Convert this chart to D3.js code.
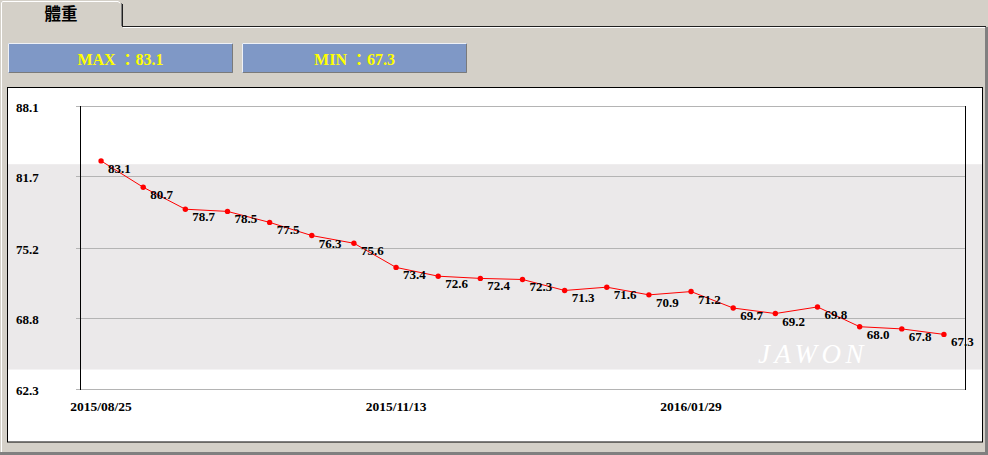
<!DOCTYPE html>
<html>
<head>
<meta charset="utf-8">
<script src="https://cdn.jsdelivr.net/npm/d3@7/dist/d3.min.js"></script>
<style>
  html, body { margin: 0; padding: 0; background: #d4d0c8; overflow: hidden; }
  svg { display: block; }
</style>
</head>
<body>
<svg id="chart" width="988" height="455"></svg>
<script>
// ---- data ----
const values = [83.1, 80.7, 78.7, 78.5, 77.5, 76.3, 75.6, 73.4, 72.6, 72.4, 72.3,
                71.3, 71.6, 70.9, 71.2, 69.7, 69.2, 69.8, 68.0, 67.8, 67.3];
const yTicks = [62.3, 68.8, 75.2, 81.7, 88.1];
const xTickLabels = ["2015/08/25", "2015/11/13", "2016/01/29"];
const xTickIndex = [0, 7, 14];
const bandRange = [64.1, 82.8];
const tabTitle = "體重";
const watermark = "JAWON";

(function () {
const svg = d3.select("#chart");
const serif = "'Liberation Serif', 'Times New Roman', 'Noto Sans CJK TC', serif";

// ---- window / tab chrome ----
svg.append("rect").attr("x", 0).attr("y", 0).attr("width", 988).attr("height", 455).attr("fill", "#d4d0c8");
svg.append("line").attr("x1", 122).attr("x2", 986).attr("y1", 26.5).attr("y2", 26.5).attr("stroke", "#202020");
svg.append("line").attr("x1", 123).attr("x2", 985).attr("y1", 27.5).attr("y2", 27.5).attr("stroke", "#ffffff");
svg.append("rect").attr("x", 985).attr("y", 27).attr("width", 3).attr("height", 428).attr("fill", "#808080");
svg.append("rect").attr("x", 0).attr("y", 452).attr("width", 988).attr("height", 3).attr("fill", "#808080");
svg.append("line").attr("x1", 1.5).attr("x2", 1.5).attr("y1", 4).attr("y2", 452).attr("stroke", "#ffffff");
svg.append("path").attr("d", "M1.5,27 L1.5,3 L2.5,1.5 L118,1.5 L120,3").attr("fill", "none").attr("stroke", "#ffffff");
svg.append("line").attr("x1", 121.5).attr("x2", 121.5).attr("y1", 3).attr("y2", 26).attr("stroke", "#808080");
svg.append("line").attr("x1", 122.5).attr("x2", 122.5).attr("y1", 4).attr("y2", 27).attr("stroke", "#202020");
svg.append("text").attr("x", 61).attr("y", 20).attr("text-anchor", "middle")
  .attr("font-family", "'Noto Sans CJK TC', 'Noto Sans CJK SC', sans-serif")
  .attr("font-weight", "bold").attr("font-size", 16.5).attr("fill", "#000").text(tabTitle);

// ---- MAX / MIN boxes ----
const boxes = [
  { x: 8, label: "MAX ：" + d3.max(values).toFixed(1) },
  { x: 242, label: "MIN ：" + d3.min(values).toFixed(1) }
];
boxes.forEach(b => {
  const g = svg.append("g");
  g.append("rect").attr("x", b.x).attr("y", 43).attr("width", 225).attr("height", 30).attr("fill", "#7f98c6");
  g.append("path").attr("d", `M${b.x + 0.5},${72.5} L${b.x + 0.5},${43.5} L${b.x + 224.5},${43.5}`)
    .attr("fill", "none").attr("stroke", "#eef1f7");
  g.append("path").attr("d", `M${b.x + 1},${72.5} L${b.x + 224.5},${72.5} L${b.x + 224.5},${44}`)
    .attr("fill", "none").attr("stroke", "#7a7a7a");
  g.append("text").attr("x", b.x + 112.5).attr("y", 64.5).attr("text-anchor", "middle")
    .attr("font-family", serif).attr("font-weight", "bold").attr("font-size", 16)
    .attr("fill", "#ffff00").text(b.label);
});

// ---- chart box ----
svg.append("rect").attr("x", 7.5).attr("y", 87.5).attr("width", 975).attr("height", 354.5)
  .attr("fill", "#ffffff").attr("stroke", "#000000");

const pLeft = 80, pRight = 965, pTop = 106, pBottom = 389.3;
const x = d3.scalePoint().domain(d3.range(values.length)).range([pLeft, pRight]).padding(0.5);
const y = d3.scaleLinear().domain([d3.min(yTicks), d3.max(yTicks)]).range([pBottom, pTop]);

// band
svg.append("rect").attr("x", 8).attr("width", 974)
  .attr("y", y(bandRange[1])).attr("height", y(bandRange[0]) - y(bandRange[1]))
  .attr("fill", "#ebe9ea");

// watermark
svg.append("text").attr("x", 758).attr("y", 363)
  .attr("font-family", serif).attr("font-style", "italic").attr("font-size", 27)
  .attr("letter-spacing", 4.5).attr("fill", "#ffffff").text(watermark);

// gridlines
svg.append("g").selectAll("line").data(yTicks).join("line")
  .attr("x1", 76).attr("x2", pRight)
  .attr("y1", d => Math.round(y(d)) + 0.5).attr("y2", d => Math.round(y(d)) + 0.5)
  .attr("stroke", "#b4b4b4");

// vertical axis lines
[pLeft, pRight].forEach(vx => {
  svg.append("line").attr("x1", vx + 0.5).attr("x2", vx + 0.5)
    .attr("y1", Math.round(y(d3.max(yTicks)))).attr("y2", Math.round(y(d3.min(yTicks))) + 1)
    .attr("stroke", "#000");
});

// y labels
svg.append("g").selectAll("text").data(yTicks).join("text")
  .attr("x", 16).attr("y", d => y(d) + 6)
  .attr("font-family", serif).attr("font-weight", "bold").attr("font-size", 13)
  .attr("fill", "#000").text(d => d.toFixed(1));

// x labels
svg.append("g").selectAll("text").data(xTickIndex).join("text")
  .attr("x", d => x(d)).attr("y", 410.5).attr("text-anchor", "middle")
  .attr("font-family", serif).attr("font-weight", "bold").attr("font-size", 13.5)
  .attr("fill", "#000").text((d, i) => xTickLabels[i]);

// line
svg.append("path").datum(values)
  .attr("d", d3.line().x((d, i) => x(i)).y(d => y(d)))
  .attr("fill", "none").attr("stroke", "#ff0000").attr("stroke-width", 1);

// points
svg.append("g").selectAll("circle").data(values).join("circle")
  .attr("cx", (d, i) => x(i)).attr("cy", d => y(d)).attr("r", 2.7)
  .attr("fill", "#ff0000");

// value labels
svg.append("g").selectAll("text").data(values).join("text")
  .attr("x", (d, i) => x(i) + 7).attr("y", d => y(d) + 12)
  .attr("font-family", serif).attr("font-weight", "bold").attr("font-size", 13)
  .attr("fill", "#000").text(d => d.toFixed(1));
})();
</script>
</body>
</html>
